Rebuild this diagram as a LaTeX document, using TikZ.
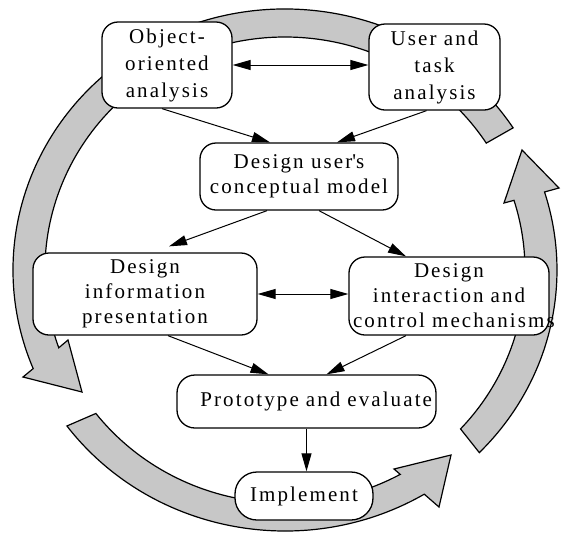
\documentclass[tikz,border=0pt]{standalone}
\usepackage{fontspec}
\setmainfont{Liberation Serif}[LetterSpace=10]
\usetikzlibrary{arrows.meta}

\tikzset{
	stage/.style={draw, line width=0.65pt, rounded corners=8pt, fill=white, align=center,
		inner xsep=2pt, inner ysep=0pt, font=\fontsize{10.5}{12.5}\selectfont},
	flow/.style={line width=0.5pt, -{Triangle[length=9pt,width=5pt]}},
	twoway/.style={line width=0.5pt, {Triangle[length=9pt,width=5pt]}-{Triangle[length=9pt,width=5pt]}},
	band/.style={draw, line width=0.6pt, fill=black!22}
}

\begin{document}
\begin{tikzpicture}[x=0.5pt, y=-0.5pt]
	\useasboundingbox (0,0) rectangle (569,532);
	% the three big arrows round the cycle
	\begin{scope}[shift={(285,270)}]
		\draw[band] (-33:272 and 261) arc[start angle=-33, end angle=-202.2, x radius=272, y radius=261]
			-- (-262,107) -- (-203,122) -- (-217,70)
			-- (-199.5:240 and 233) arc[start angle=-199.5, end angle=-33, x radius=240, y radius=233] -- cycle;
		\draw[band] (143.3:272 and 261) arc[start angle=143.3, end angle=59.2, x radius=272, y radius=261]
			-- (154,237) -- (166,185) -- (109,199)
			-- (61.3:240 and 233) arc[start angle=61.3, end angle=142, x radius=240, y radius=233] -- cycle;
		\draw[band] (44.4:272 and 261) arc[start angle=44.4, end angle=-17.4, x radius=272, y radius=261]
			-- (274,-82) -- (237,-120) -- (219,-67)
			-- (-17.4:240 and 233) arc[start angle=-17.4, end angle=43, x radius=240, y radius=233] -- cycle;
	\end{scope}

	% stages
	\node[stage, minimum width=65pt, minimum height=43pt, font=\fontsize{10.5}{13.5}\selectfont] (ooa) at (167,65) {Object-\\oriented\\analysis};
	\node[stage, minimum width=65.5pt, minimum height=43pt, font=\fontsize{10.5}{13.5}\selectfont] (uta) at (434.5,67) {User and\\task\\analysis};
	\node[stage, minimum width=99pt, minimum height=33.5pt] (ucm) at (299,176.5) {Design user\textquotesingle s\\conceptual model};
	\node[stage, minimum width=112pt, minimum height=41pt] (dip) at (145,294) {Design\\information\\presentation};
	\node[stage, text width=96pt, minimum height=39pt] (dic) at (449,296) {Design\\interaction and\\\mbox{control mechanisms}};
	\node[stage, rounded corners=9pt, text width=125.5pt, align=right, minimum height=26.5pt] (pro) at (306.5,401.5) {Prototype and evaluate};
	\node[stage, rounded corners=11pt, minimum width=69pt, minimum height=24pt] (imp) at (304,496) {Implement};

	% links
	\draw[twoway] (ooa.east) -- (ooa.east -| uta.west);
	\draw[twoway] (dip.east) -- (dip.east -| dic.west);
	\draw[flow] ([xshift=-2.5pt]ooa.south) -- ([xshift=-14.5pt]ucm.north);
	\draw[flow] ([xshift=-4pt]uta.south) -- ([xshift=19pt]ucm.north);
	\draw[flow] ([xshift=-16pt]ucm.south) -- ([xshift=12pt,yshift=3pt]dip.north);
	\draw[flow] ([xshift=10pt]ucm.south) -- ([xshift=-21.5pt]dic.north);
	\draw[flow] ([xshift=11.5pt]dip.south) -- ([xshift=-19pt]pro.north);
	\draw[flow] ([xshift=-21.5pt]dic.south) -- ([xshift=10pt]pro.north);
	\draw[flow] (pro.south) -- (pro.south |- imp.north);
\end{tikzpicture}
\end{document}
